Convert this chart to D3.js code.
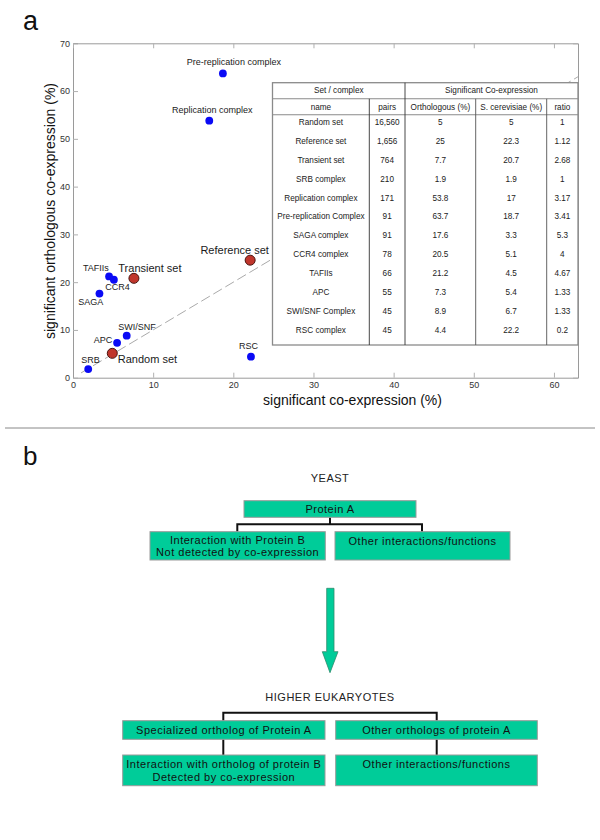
<!DOCTYPE html>
<html>
<head>
<meta charset="utf-8">
<script src="https://cdn.jsdelivr.net/npm/d3@7"></script>
<style>
  html, body { margin: 0; padding: 0; background: #fff; }
  svg { display: block; font-family: "Liberation Sans", Arial, Helvetica, sans-serif; }
</style>
</head>
<body>
<svg id="chart" width="600" height="840"></svg>
<script>
// ---------------- DATA ----------------
// Scatter (x = significant co-expression %, y = significant orthologous co-expression %)
const pointNames = ["Pre-replication complex", "Replication complex", "Reference set", "Transient set",
  "TAFIIs", "CCR4", "SAGA", "SWI/SNF", "APC", "Random set", "SRB", "RSC"];
const pointX = [18.7, 17.0, 22.1, 7.6, 4.5, 5.1, 3.3, 6.7, 5.5, 4.9, 1.9, 22.2];
const pointY = [63.7, 53.8, 24.6, 20.8, 21.2, 20.5, 17.6, 8.8, 7.3, 5.1, 1.8, 4.4];
const pointGroup = ["complex", "complex", "set", "set", "complex", "complex", "complex",
  "complex", "complex", "set", "complex", "complex"];

const xTicks = [0, 10, 20, 30, 40, 50, 60];
const yTicks = [0, 10, 20, 30, 40, 50, 60, 70];
const diagonal = [1, 63];

// Table
const tableHeader1 = ["Set / complex", "Significant Co-expression"];
const tableHeader2 = ["name", "pairs", "Orthologous (%)", "S. cerevisiae (%)", "ratio"];
const tableNames = ["Random set", "Reference set", "Transient set", "SRB complex", "Replication complex",
  "Pre-replication Complex", "SAGA complex", "CCR4 complex", "TAFIIs", "APC", "SWI/SNF Complex", "RSC complex"];
const tablePairs = ["16,560", "1,656", "764", "210", "171", "91", "91", "78", "66", "55", "45", "45"];
const tableOrth = ["5", "25", "7.7", "1.9", "53.8", "63.7", "17.6", "20.5", "21.2", "7.3", "8.9", "4.4"];
const tableScer = ["5", "22.3", "20.7", "1.9", "17", "18.7", "3.3", "5.1", "4.5", "5.4", "6.7", "22.2"];
const tableRatio = ["1", "1.12", "2.68", "1", "3.17", "3.41", "5.3", "4", "4.67", "1.33", "1.33", "0.2"];

// Panel b texts
const yeastTitle = "YEAST";
const yeastTop = ["Protein A"];
const yeastLeft = ["Interaction with Protein B", "Not detected by co-expression"];
const yeastRight = ["Other interactions/functions"];
const higherTitle = "HIGHER EUKARYOTES";
const higherTopLeft = ["Specialized ortholog of Protein A"];
const higherTopRight = ["Other orthologs of protein A"];
const higherBottomLeft = ["Interaction with ortholog of protein B", "Detected by co-expression"];
const higherBottomRight = ["Other interactions/functions"];

// ---------------- LAYOUT ----------------
const svg = d3.select("#chart");
const FONT = '"Liberation Sans", Arial, Helvetica, sans-serif';
const plot = { left: 73, right: 578, top: 43.3, bottom: 377.7 };
const x = d3.scaleLinear().domain([0, 63]).range([plot.left, plot.right]);
const y = d3.scaleLinear().domain([0, 70]).range([plot.bottom, plot.top]);

// label offsets (layout), keyed by name
const labelLayout = {
  "Pre-replication complex": { dx: 11, dy: -11.5, anchor: "middle", size: 9 },
  "Replication complex": { dx: 3, dy: -10.7, anchor: "middle", size: 9 },
  "Reference set": { dx: -15.5, dy: -10.3, anchor: "middle", size: 11 },
  "Transient set": { dx: 16, dy: -10.7, anchor: "middle", size: 11 },
  "TAFIIs": { dx: -13.2, dy: -8, anchor: "middle", size: 9 },
  "CCR4": { dx: 3.7, dy: 7.3, anchor: "middle", size: 9 },
  "SAGA": { dx: -8.8, dy: 8.6, anchor: "middle", size: 9 },
  "SWI/SNF": { dx: 10.3, dy: -8.4, anchor: "middle", size: 9 },
  "APC": { dx: -14, dy: -3, anchor: "middle", size: 9 },
  "Random set": { dx: 5.5, dy: 5.4, anchor: "start", size: 11 },
  "SRB": { dx: 2.3, dy: -9.3, anchor: "middle", size: 9 },
  "RSC": { dx: -2.4, dy: -11, anchor: "middle", size: 9 }
};

// Panel label a
svg.append("text").attr("x", 23).attr("y", 29.5).attr("font-size", 27).attr("fill", "#111").text("a");

// Axes
const axisColor = "#9a9a9a";
const gx = svg.append("g").attr("transform", `translate(0,${plot.bottom})`)
  .call(d3.axisBottom(x).tickValues(xTicks).tickSize(-5).tickSizeOuter(0).tickPadding(4));
const gy = svg.append("g").attr("transform", `translate(${plot.left},0)`)
  .call(d3.axisLeft(y).tickValues(yTicks).tickSize(-5).tickSizeOuter(0).tickPadding(3));
const gt = svg.append("g").attr("transform", `translate(0,${plot.top})`)
  .call(d3.axisTop(x).tickValues(xTicks).tickSize(-5).tickSizeOuter(0).tickFormat(""));
const gr = svg.append("g").attr("transform", `translate(${plot.right},0)`)
  .call(d3.axisRight(y).tickValues(yTicks).tickSize(-5).tickSizeOuter(0).tickFormat(""));
[gx, gy, gt, gr].forEach(g => {
  g.selectAll("path.domain").attr("stroke", axisColor).attr("stroke-width", 1);
  g.selectAll(".tick line").attr("stroke", "#b0b0b0");
  g.selectAll(".tick text").attr("font-size", 9).attr("fill", "#333").attr("font-family", FONT);
});

// Axis titles
svg.append("text").attr("x", 352.5).attr("y", 405).attr("text-anchor", "middle")
  .attr("font-size", 14).attr("fill", "#111").text("significant co-expression (%)");
svg.append("text").attr("transform", "translate(55,211) rotate(-90)").attr("text-anchor", "middle")
  .attr("font-size", 14).attr("fill", "#111").text("significant orthologous co-expression (%)");

// Diagonal dashed line
svg.append("line")
  .attr("x1", x(diagonal[0])).attr("y1", y(diagonal[0]))
  .attr("x2", x(diagonal[1])).attr("y2", y(diagonal[1]))
  .attr("stroke", "#aaa").attr("stroke-width", 1).attr("stroke-dasharray", "10,4");

// Table
const tbl = { left: 272.5, right: 578, top: 82.7, h1: 98.8, h2: 114.8, bottom: 345 };
const colEdges = [272.5, 369.3, 405, 475.7, 546.7, 578];
const rowY0 = 122.7, rowStep = 18.85;
const tg = svg.append("g").attr("font-size", 8.2).attr("fill", "#222");
tg.append("rect").attr("x", tbl.left).attr("y", tbl.top).attr("width", tbl.right - tbl.left)
  .attr("height", tbl.bottom - tbl.top).attr("fill", "#fff").attr("stroke", "#8a8a8a").attr("stroke-width", 1.3);
[tbl.h1, tbl.h2].forEach(yy => tg.append("line").attr("x1", tbl.left).attr("x2", tbl.right)
  .attr("y1", yy).attr("y2", yy).attr("stroke", "#8a8a8a").attr("stroke-width", 1.1));
// vertical lines
tg.append("line").attr("x1", colEdges[1]).attr("x2", colEdges[1]).attr("y1", tbl.h1).attr("y2", tbl.bottom)
  .attr("stroke", "#333").attr("stroke-width", 0.9);
tg.append("line").attr("x1", colEdges[2]).attr("x2", colEdges[2]).attr("y1", tbl.top).attr("y2", tbl.bottom)
  .attr("stroke", "#333").attr("stroke-width", 0.9);
[colEdges[3], colEdges[4]].forEach(cx => tg.append("line").attr("x1", cx).attr("x2", cx)
  .attr("y1", tbl.h1).attr("y2", tbl.bottom).attr("stroke", "#555").attr("stroke-width", 0.9));
// header
tg.append("text").attr("x", (colEdges[0] + colEdges[2]) / 2).attr("y", 90.8).attr("text-anchor", "middle")
  .attr("dominant-baseline", "central").text(tableHeader1[0]);
tg.append("text").attr("x", (colEdges[2] + colEdges[5]) / 2).attr("y", 90.8).attr("text-anchor", "middle")
  .attr("dominant-baseline", "central").text(tableHeader1[1]);
tableHeader2.forEach((h, i) => tg.append("text").attr("x", (colEdges[i] + colEdges[i + 1]) / 2).attr("y", 107)
  .attr("text-anchor", "middle").attr("dominant-baseline", "central").text(h));
const columns = [tableNames, tablePairs, tableOrth, tableScer, tableRatio];
columns.forEach((col, ci) => {
  tg.selectAll(null).data(col).enter().append("text")
    .attr("x", (colEdges[ci] + colEdges[ci + 1]) / 2)
    .attr("y", (d, i) => rowY0 + i * rowStep)
    .attr("text-anchor", "middle").attr("dominant-baseline", "central")
    .text(d => d);
});

// Points
const pts = pointNames.map((n, i) => ({ name: n, x: pointX[i], y: pointY[i], group: pointGroup[i] }));
svg.append("g").selectAll("circle").data(pts).enter().append("circle")
  .attr("cx", d => x(d.x)).attr("cy", d => y(d.y))
  .attr("r", d => d.group === "set" ? 5 : 3.9)
  .attr("fill", d => d.group === "set" ? "#c0362c" : "#0a0af5")
  .attr("stroke", d => d.group === "set" ? "#4a1510" : "none")
  .attr("stroke-width", 1);
svg.append("g").selectAll("text").data(pts).enter().append("text")
  .attr("x", d => x(d.x) + labelLayout[d.name].dx)
  .attr("y", d => y(d.y) + labelLayout[d.name].dy)
  .attr("text-anchor", d => labelLayout[d.name].anchor)
  .attr("dominant-baseline", "central")
  .attr("font-size", d => labelLayout[d.name].size)
  .attr("fill", "#1a1a1a")
  .text(d => d.name);

// Separator
svg.append("line").attr("x1", 5).attr("x2", 595).attr("y1", 428).attr("y2", 428)
  .attr("stroke", "#888").attr("stroke-width", 1);

// ---------------- PANEL b ----------------
svg.append("text").attr("x", 23).attr("y", 465).attr("font-size", 26).attr("fill", "#111").text("b");

const teal = "#00cc99";
const bg = svg.append("g").attr("font-size", 11).attr("letter-spacing", 0.5).attr("fill", "#111");
function box(x0, y0, x1, y1, lines, textY, lineGap) {
  bg.append("rect").attr("x", x0).attr("y", y0).attr("width", x1 - x0).attr("height", y1 - y0)
    .attr("fill", teal).attr("stroke", "#9a9a9a").attr("stroke-width", 1);
  const t = bg.append("text").attr("text-anchor", "middle").attr("fill", "#111");
  lines.forEach((l, i) => t.append("tspan").attr("x", (x0 + x1) / 2).attr("y", textY + 3.9 + i * (lineGap || 0)).text(l));
}
function line(pts) {
  bg.append("path").attr("d", d3.line()(pts)).attr("fill", "none").attr("stroke", "#111").attr("stroke-width", 2);
}
bg.append("text").attr("x", 330).attr("y", 478.3 + 3.9).attr("text-anchor", "middle")
  .attr("fill", "#222").text(yeastTitle);
line([[330, 517.3], [330, 524.3]]);
line([[237.3, 531.7], [237.3, 524.3], [422, 524.3], [422, 531.7]]);
box(244, 500.7, 416, 517.3, yeastTop, 509);
box(150, 531.7, 325.3, 560, yeastLeft, 539.6, 12.5);
box(335, 531.7, 510, 560, yeastRight, 540.7);

// Arrow
bg.append("path")
  .attr("d", d3.line()([[326.7, 588.3], [334, 588.3], [334, 651.7], [338, 651.7], [330, 672.7],
    [322.3, 651.7], [326.7, 651.7]]) + "Z")
  .attr("fill", teal).attr("stroke", "#2f8a6c").attr("stroke-width", 0.8);

bg.append("text").attr("x", 330).attr("y", 696.7 + 3.9).attr("text-anchor", "middle")
  .attr("fill", "#222").text(higherTitle);
line([[223.3, 720.7], [223.3, 712.7], [436.7, 712.7], [436.7, 720.7]]);
line([[223.3, 739.3], [223.3, 755]]);
line([[436.7, 739.3], [436.7, 755]]);
box(122.7, 720.7, 325, 739.3, higherTopLeft, 730);
box(335.7, 720.7, 537.3, 739.3, higherTopRight, 730);
box(122.7, 755, 325, 785.7, higherBottomLeft, 764.3, 12.5);
box(335.7, 755, 537.3, 785.7, higherBottomRight, 764.3);
</script>
</body>
</html>
